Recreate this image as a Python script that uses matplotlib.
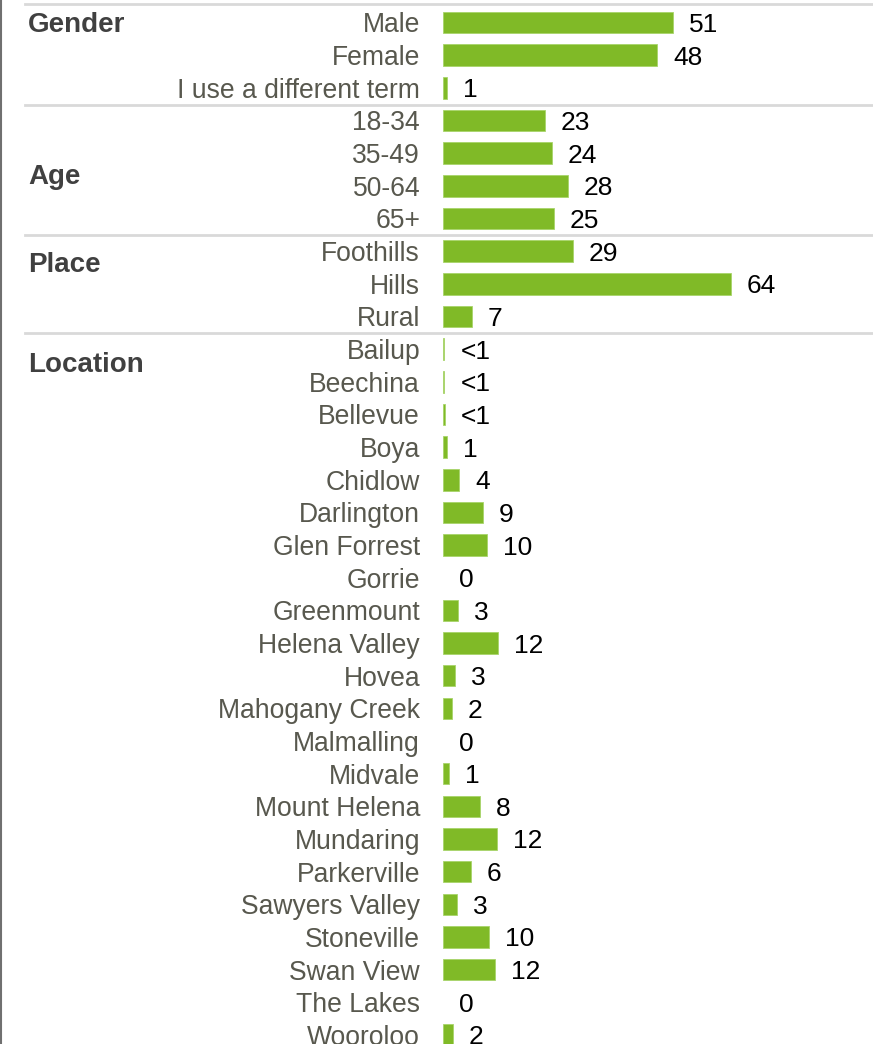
import matplotlib
matplotlib.use("Agg")
import matplotlib.pyplot as plt
from matplotlib.transforms import blended_transform_factory
from matplotlib.lines import Line2D

plt.rcParams['font.family'] = ['Liberation Sans', 'DejaVu Sans']

# ---- data ----
categories = ["Male", "Female", "I use a different term",
              "18-34", "35-49", "50-64", "65+",
              "Foothills", "Hills", "Rural",
              "Bailup", "Beechina", "Bellevue", "Boya", "Chidlow", "Darlington",
              "Glen Forrest", "Gorrie", "Greenmount", "Helena Valley", "Hovea",
              "Mahogany Creek", "Malmalling", "Midvale", "Mount Helena", "Mundaring",
              "Parkerville", "Sawyers Valley", "Stoneville", "Swan View", "The Lakes",
              "Wooroloo"]
values = [51, 47.6, 0.9,
          22.7, 24.2, 27.8, 24.7,
          28.9, 64, 6.4,
          0.3, 0.3, 0.5, 0.9, 3.6, 8.9,
          9.8, 0, 3.3, 12.2, 2.7,
          2.0, 0, 1.3, 8.2, 12.0,
          6.2, 3.1, 10.2, 11.6, 0,
          2.2]
value_labels = ["51", "48", "1",
                "23", "24", "28", "25",
                "29", "64", "7",
                "<1", "<1", "<1", "1", "4", "9",
                "10", "0", "3", "12", "3",
                "2", "0", "1", "8", "12",
                "6", "3", "10", "12", "0",
                "2"]
group_names = ["Gender", "Age", "Place", "Location"]
group_label_rows = [0, 4.64, 7.33, 10.4]
separator_rows = [-0.57, 2.52, 6.52, 9.52]

# ---- styling ----
W, H, DPI = 873, 1044, 100
green = "#80ba27"
label_color = "#58584e"
header_color = "#404040"
sep_color = "#d9d9d9"

fig = plt.figure(figsize=(W / DPI, H / DPI), dpi=DPI)
px_per_unit = 4.5
bar_left_px = 443
ax = fig.add_axes([bar_left_px / W, 0, 1 - bar_left_px / W, 1])

row_h = 32.66
top_c = 22.5
ax.set_ylim((H - top_c) / row_h, -top_c / row_h)
ax.set_xlim(0, (W - bar_left_px) / px_per_unit)

ypos = list(range(len(categories)))
lws = [0.6 if v > 0 else 0 for v in values]
ax.barh(ypos, values, height=0.66, color=green, edgecolor="#a8d46a", linewidth=lws)

for y, v, lab in zip(ypos, values, value_labels):
    ax.annotate(lab, (v, y), xytext=(11.5, 0), textcoords="offset points",
                ha="left", va="center_baseline", fontsize=19, color="black")

ax.set_yticks(ypos)
ax.set_yticklabels(categories, fontsize=19.1, color=label_color, va="center_baseline")
ax.tick_params(axis="y", length=0, pad=16.5)
ax.tick_params(axis="x", bottom=False, labelbottom=False)
for s in ax.spines.values():
    s.set_visible(False)
ax.patch.set_alpha(0)

trans = blended_transform_factory(fig.transFigure, ax.transData)
for r in separator_rows:
    ax.add_line(Line2D([25 / W, 1], [r, r], transform=trans, color=sep_color,
                       linewidth=2.0, clip_on=False, zorder=0))

for name, r in zip(group_names, group_label_rows):
    ax.text(28 / W, r, name, transform=trans, ha="left", va="center_baseline",
            fontsize=20, fontweight="bold", color=header_color)

fig.add_artist(Line2D([1 / W, 1 / W], [0, 1], transform=fig.transFigure,
                      color="#707070", linewidth=1.5))

fig.savefig("out.png", dpi=DPI)
